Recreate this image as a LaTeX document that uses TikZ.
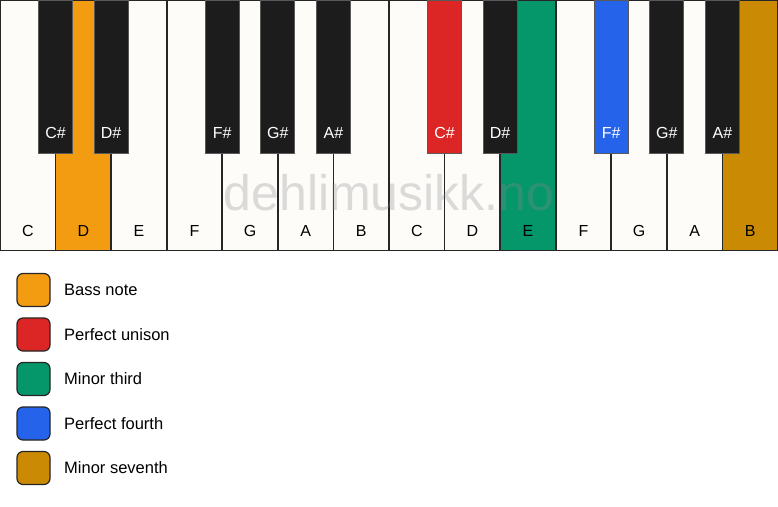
\documentclass[tikz,border=0pt]{standalone}
\usepackage{fontspec}
\setmainfont{Liberation Sans}
\usetikzlibrary{positioning}

\definecolor{ivory}{HTML}{FDFCF9}
\definecolor{keyblack}{HTML}{1C1C1C}
\definecolor{bassorange}{HTML}{F39C12}
\definecolor{unisonred}{HTML}{DC2626}
\definecolor{thirdgreen}{HTML}{059669}
\definecolor{fourthblue}{HTML}{2563EB}
\definecolor{seventhgold}{HTML}{CA8A04}

\tikzset{
  whitekey/.style={fill=ivory, rectangle,
    minimum width=55.57pt, minimum height=250pt, inner sep=0pt},
  keyedge/.style={draw=black!85, line width=1.4pt},
  blackkey/.style={draw=black!65, line width=1pt, fill=keyblack, rectangle,
    minimum width=34pt, minimum height=153pt, inner sep=0pt},
  keylabel/.style={font=\fontsize{16}{18}\selectfont, text=black},
  sharplabel/.style={font=\fontsize{16}{18}\selectfont, text=white},
  swatch/.style={draw=black!85, line width=1.2pt, rounded corners=6pt,
    minimum size=33pt, inner sep=0pt},
  legendtext/.style={font=\fontsize{16.5}{18}\selectfont, anchor=west, inner sep=0pt}
}

\begin{document}
\begin{tikzpicture}[x=1pt, y=-1pt]
    \useasboundingbox[fill=white] (0,0) rectangle (778,506);

    % white keys
    \foreach \i/\name/\col in {0/C/ivory, 1/D/bassorange, 2/E/ivory, 3/F/ivory,
        4/G/ivory, 5/A/ivory, 6/B/ivory, 7/C/ivory, 8/D/ivory, 9/E/thirdgreen,
        10/F/ivory, 11/G/ivory, 12/A/ivory, 13/B/seventhgold} {
        \node[whitekey, fill=\col] (white\i) at ({(\i+0.5)*55.57}, 125) {};
        \node[keylabel] (wlabel\i) at ({(\i+0.5)*55.57}, 231) {\name};
    }
    \foreach \i in {0,...,13}
        \draw[keyedge] (white\i.north west) rectangle (white\i.south east);

    % watermark
    \node[font=\fontsize{50}{52}\selectfont, text=black!45, opacity=0.3] (mark) at (389, 193) {dehlimusikk.no};

    % black keys
    \foreach \i/\name/\col in {1/C\#/keyblack, 2/D\#/keyblack, 4/F\#/keyblack,
        5/G\#/keyblack, 6/A\#/keyblack, 8/C\#/unisonred, 9/D\#/keyblack,
        11/F\#/fourthblue, 12/G\#/keyblack, 13/A\#/keyblack} {
        \node[blackkey, fill=\col] (black\i) at ({\i*55.57}, 76.5) {};
        \node[sharplabel] (blabel\i) at ({\i*55.57}, 133) {\name};
    }

    % legend
    \node[swatch, fill=bassorange] (bass) at (33.5, 290) {};
    \node[legendtext] (basstext) at (64, 290) {Bass note};
    \node[swatch, fill=unisonred] (unison) at (33.5, 334.5) {};
    \node[legendtext] (unisontext) at (64, 334.5) {Perfect unison};
    \node[swatch, fill=thirdgreen] (third) at (33.5, 379) {};
    \node[legendtext] (thirdtext) at (64, 379) {Minor third};
    \node[swatch, fill=fourthblue] (fourth) at (33.5, 423.5) {};
    \node[legendtext] (fourthtext) at (64, 423.5) {Perfect fourth};
    \node[swatch, fill=seventhgold] (seventh) at (33.5, 468) {};
    \node[legendtext] (seventhtext) at (64, 468) {Minor seventh};
\end{tikzpicture}
\end{document}
